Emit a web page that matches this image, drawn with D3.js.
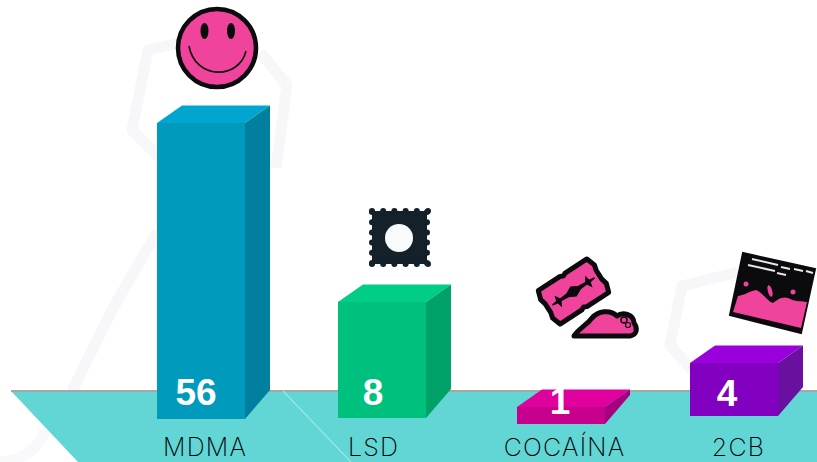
<!DOCTYPE html>
<html><head><meta charset="utf-8">
<script src="https://cdn.jsdelivr.net/npm/d3@7/dist/d3.min.js"></script>
<style>html,body{margin:0;padding:0;background:#fff;overflow:hidden}svg{display:block}</style>
</head><body><svg id="c" width="817" height="462"></svg>
<script>
const categories = ["MDMA","LSD","COCAÍNA","2CB"];
const values = [56,8,1,4];
const frontColors = ["#009abc","#00c07e","#c6008c","#8200c0"];
const sideColors  = ["#007f9f","#00a268","#a5007e","#6a10a0"];
const topColors   = ["#00a6d0","#00cd86","#e0009e","#9a00dc"];

const svg = d3.select("#c");
const W=817,H=462,floorY=391,pink="#f0439b",ink="#0b0b0d";

// The source uses a non-linear, hand-made pictogram scale
const heightScale = d3.scaleLinear().domain([1,4,8,56]).range([17,53,116,296]);
const xLeft = d3.scaleOrdinal().domain(categories).range([157,338,517,690]);
const baseY = d3.scaleOrdinal().domain(categories).range([419,418,424,416]);
const labelX = d3.scaleOrdinal().domain(categories).range([204.5,373,564,738]);
const valueX = d3.scaleOrdinal().domain(categories).range([196,373,560,727]);
const valueY = d3.scaleOrdinal().domain(categories).range([405,405,414,406]);
const bw=88, dx=25, dy=17.5;
const line=d3.line();

// ghost background outlines
const ghost=svg.append("g").attr("fill","none").attr("stroke","#f7f7fa").attr("stroke-width",11).attr("stroke-linejoin","round");
[
 [[178,43],[148,50],[132,130],[160,158]],
 [[260,52],[287,85],[276,168]],
 [[157,232],[112,310],[72,391]],
 [[738,272],[682,286],[670,345],[692,370]],
].forEach(p=>ghost.append("path").attr("d",line(p)));
ghost.append("path").attr("d","M45,430C40,450 20,460 0,462").attr("stroke","#f9f9fb");

// floor
svg.append("path").attr("d",line([[11,floorY],[W,floorY],[W,H],[78,H]])).attr("fill","#62d5d5");
svg.append("line").attr("x1",11).attr("x2",W).attr("y1",floorY).attr("y2",floorY).attr("stroke","#a3a8a6").attr("stroke-width",2);
svg.append("line").attr("x1",283).attr("y1",391).attr("x2",351).attr("y2",462).attr("stroke","#9ce6e6").attr("stroke-width",1.2);

// bars
const bars=svg.selectAll("g.bar").data(categories.map((c,i)=>({c,v:values[i],i}))).join("g").attr("class","bar");
const barTop=d=>baseY(d.c)-heightScale(d.v);
bars.append("path").attr("fill",d=>topColors[d.i]).attr("d",d=>{const x=xLeft(d.c),t=barTop(d);return line([[x,t],[x+dx,t-dy],[x+bw+dx,t-dy],[x+bw,t]])+"Z";});
bars.append("path").attr("fill",d=>sideColors[d.i]).attr("d",d=>{const x=xLeft(d.c)+bw,t=barTop(d),b=baseY(d.c);return line([[x,t],[x+dx,t-dy],[x+dx,Math.max(t-dy,b-29)],[x,b]])+"Z";});
bars.append("rect").attr("fill",d=>frontColors[d.i]).attr("x",d=>xLeft(d.c)).attr("y",barTop).attr("width",bw).attr("height",d=>heightScale(d.v));
bars.append("text").text(d=>d.v).attr("x",d=>valueX(d.c)).attr("y",d=>valueY(d.c)).attr("text-anchor","middle")
  .attr("fill","#fff").attr("font-family","Liberation Sans").attr("font-weight",700).attr("font-size",37);

// category labels
const axis=svg.append("g").attr("transform","translate(0,434)").call(d3.axisBottom(labelX).tickSize(0).tickPadding(0));
axis.select(".domain").remove();
axis.selectAll("text").attr("font-family","Inter").attr("font-weight",200).attr("font-size",25).attr("letter-spacing",1.2).attr("fill","#000").attr("dy",0).attr("y",21.5);

// smiley
const s=svg.append("g").attr("transform","translate(217,48)");
s.append("circle").attr("r",39).attr("fill",pink).attr("stroke",ink).attr("stroke-width",4.5);
s.selectAll("ellipse").data([-12.5,14]).join("ellipse").attr("cx",d=>d).attr("cy",-17).attr("rx",4).attr("ry",8).attr("fill",ink);
s.append("path").attr("d","M-28,-2C-22,32 22,32 29,3").attr("fill","none").attr("stroke",ink).attr("stroke-width",1.6);

// stamp
const st=svg.append("g").attr("fill","#14202a");
st.append("rect").attr("x",372).attr("y",211).attr("width",55).attr("height",53);
d3.range(6).forEach(i=>{const a=372+i*11.2,b=212+i*10.2;
 st.append("circle").attr("cx",a).attr("cy",211).attr("r",3);
 st.append("circle").attr("cx",a).attr("cy",264).attr("r",3);
 st.append("circle").attr("cx",372).attr("cy",b).attr("r",3);
 st.append("circle").attr("cx",427).attr("cy",b).attr("r",3);
});
st.append("circle").attr("cx",399).attr("cy",238).attr("r",14).attr("fill","#f9fafa");

// razor blade
const r=svg.append("g").attr("transform","translate(573.5,291.5) rotate(-33)");
r.append("path").attr("d","M-29,-20H-3L0,-18.5L3,-20H29L32,-11L30.5,-5V5L32,11L29,20H3L0,18.5L-3,20H-29L-32,11L-30.5,5V-5L-32,-11Z")
 .attr("fill",pink).attr("stroke",ink).attr("stroke-width",5).attr("stroke-linejoin","round");
r.append("path").attr("d","M-25,0L-19,-.8L-18,-5L-15.5,-.8L-7,-1.5L0,-5L7,-1.5L15.5,-.8L18,-5L19,-.8L25,0L19,.8L18,5L15.5,.8L7,1.5L0,5L-7,1.5L-15.5,.8L-18,5L-19,.8Z")
 .attr("fill",ink).attr("stroke",ink).attr("stroke-width",1.5);
// powder
svg.append("path").attr("d","M574,336C580,327 586,326 592,318C598,311 610,309 617,316C623,311 634,315 634,323C638,328 637,335 630,336Z")
 .attr("fill",pink).attr("stroke",ink).attr("stroke-width",5).attr("stroke-linejoin","round");
svg.append("circle").attr("cx",624).attr("cy",320).attr("r",3).attr("fill",pink).attr("stroke",ink).attr("stroke-width",1.5);
svg.append("circle").attr("cx",628).attr("cy",325).attr("r",2.5).attr("fill",pink).attr("stroke",ink).attr("stroke-width",1.2);
// bag
svg.append("path").attr("d",line([[743,253],[815,269],[801,333],[730,315]])+"Z").attr("fill",ink).attr("stroke",ink).attr("stroke-width",2);
svg.append("path").attr("d","M733,312L738,296C745,295 750,291 756,290C762,292 768,302 773,303C777,300 782,296 788,298C795,302 802,301 807,302L801,328Z").attr("fill",pink);
[[752,259,778,265],[748,265,775,271],[781,267,790,269],[794,269,803,271],[806,271,813,273],[777,273,786,275]].forEach(l=>
 svg.append("line").attr("x1",l[0]).attr("y1",l[1]).attr("x2",l[2]).attr("y2",l[3]).attr("stroke","#e6e6e6").attr("stroke-width",2));
svg.append("ellipse").attr("cx",770).attr("cy",291).attr("rx",2.2).attr("ry",6).attr("transform","rotate(-15 770 291)").attr("fill",pink);
svg.append("circle").attr("cx",746).attr("cy",284).attr("r",2.5).attr("fill",pink);
svg.append("circle").attr("cx",793).attr("cy",292).attr("r",2.5).attr("fill",pink);
</script></body></html>
